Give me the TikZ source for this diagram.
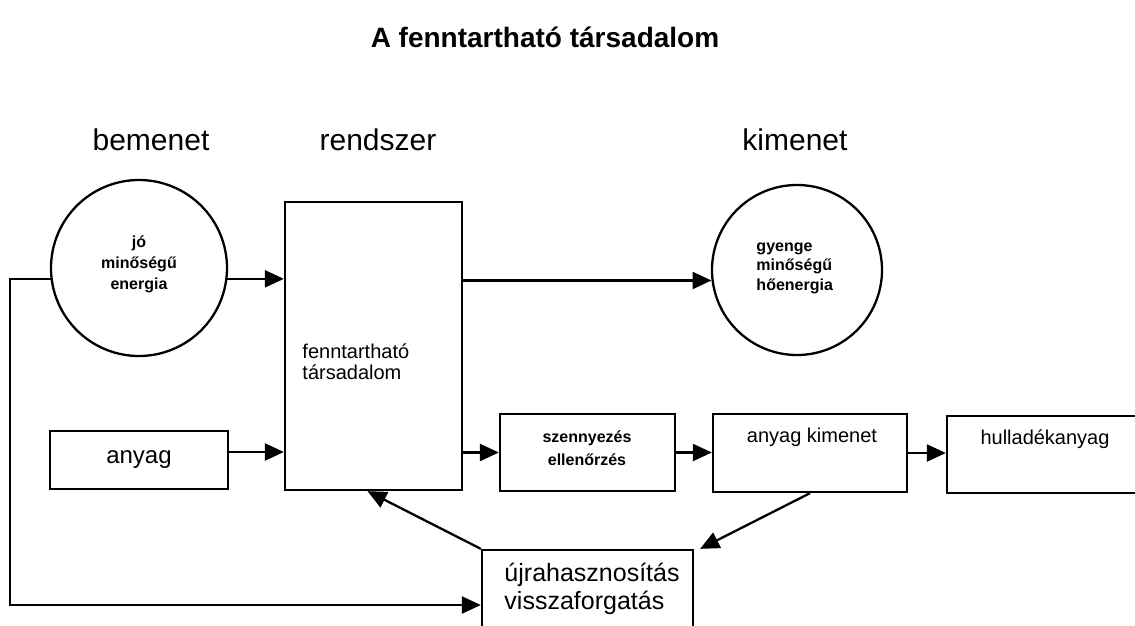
\documentclass[tikz,border=0pt]{standalone}
\usepackage{fontspec}
\setmainfont{Liberation Sans}
\usetikzlibrary{arrows.meta,calc}
\begin{document}
\begin{tikzpicture}[x=1pt,y=-1pt,
  line width=2.3pt,
  arr/.style={-{Triangle[length=19pt,width=17pt]}},
  box/.style={draw, rectangle, inner sep=0pt},
  circ/.style={draw, circle, inner sep=0pt},
  hdr/.style={font=\fontsize{30}{36}\selectfont, anchor=base},
  ]
\useasboundingbox[fill=white] (0,0) rectangle (1135,626);
% titles
\node[font=\bfseries\fontsize{28}{34}\selectfont, anchor=base] (title) at (545,48) {A fenntartható társadalom};
\node[hdr] (hin) at (151,150) {bemenet};
\node[hdr] (hsys) at (378,150) {rendszer};
\node[hdr] (hout) at (795,150) {kimenet};
% shapes
\node[circ, minimum size=176pt] (lc) at (139,268) {};
\node[font=\bfseries\fontsize{16}{21}\selectfont, align=center] (lct) at (139,264) {jó\\minőségű\\energia};
\node[circ, minimum size=170pt] (rcirc) at (797,270) {};
\node[font=\bfseries\fontsize{16}{19.5}\selectfont, align=left, anchor=west] (rct) at (752,268) {gyenge\\minőségű\\hőenergia};
\node[box, minimum width=177pt, minimum height=288pt] (rs) at (373.5,346) {};
\node[font=\fontsize{20}{21}\selectfont, align=left, anchor=west] (rst) at (298,362) {fenntartható\\társadalom};
\node[box, minimum width=178pt, minimum height=58pt, font=\fontsize{24}{28}\selectfont] (ab) at (139,460) {anyag};
\node[box, minimum width=175pt, minimum height=77pt] (sz) at (587.5,452.5) {};
\node[font=\bfseries\fontsize{16}{23}\selectfont, align=center] (szt) at (587,448) {szennyezés\\ellenőrzés};
\node[box, minimum width=194pt, minimum height=78pt] (ak) at (810,453) {};
\node[font=\fontsize{20}{24}\selectfont] (akt) at (812,437) {anyag kimenet};
\node[box, minimum width=200pt, minimum height=77pt] (hu) at (1047,454.5) {};
\node[font=\fontsize{20}{24}\selectfont] (hut) at (1045,439) {hulladékanyag};
\node[box, minimum width=211pt, minimum height=100pt] (rc) at (587.5,600) {};
\node[font=\fontsize{25}{28}\selectfont, align=left, anchor=west] (rct2) at (500,589) {újrahasznosítás\\visszaforgatás};
\coordinate (lft) at (10,605);
\coordinate (aa) at ($(ab.east)+(0,-8)$);
% connectors
\draw[arr] (lc.-7) -- (lc.-7 -| rs.west);
\draw[arr] (lc.187) -| (lft) -- (lft -| rc.west);
\draw[arr] (rcirc.187 -| rs.east) -- (rcirc.187);
\draw[arr] (aa) -- (aa -| rs.west);
\draw[arr] (sz.west -| rs.east) -- (sz.west);
\draw[arr] (sz.east) -- (sz.east -| ak.west);
\draw[arr] (ak.east) -- (ak.east -| hu.west);
\draw[arr] (ak.south) -- ([xshift=6pt]rc.north east);
\draw[arr] (rc.north west) -- ([xshift=-6pt]rs.south);
\end{tikzpicture}
\end{document}
